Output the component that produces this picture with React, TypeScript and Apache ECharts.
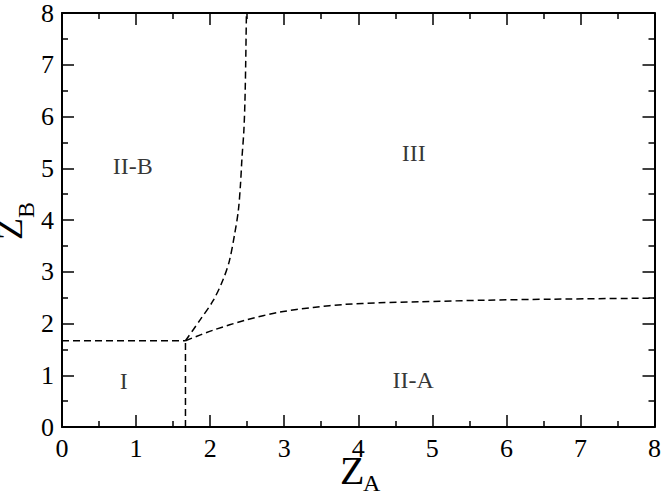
import React, { useEffect, useRef } from "react";
import * as echarts from "echarts";

const FONT = "serif";
const GFONT = "Liberation Serif";

// Phase boundaries [Z_A, Z_B]
const boundaryI_IIB: [number, number][] = [[0, 1.667], [1.667, 1.667]];
const boundaryI_IIA: [number, number][] = [[1.667, 0], [1.667, 1.667]];
const boundaryIIB_III: [number, number][] = [
  [1.667, 1.667], [1.86, 2.06], [2.04, 2.44], [2.17, 2.83], [2.26, 3.21],
  [2.33, 3.72], [2.38, 4.17], [2.41, 4.69], [2.43, 5.2], [2.455, 5.71],
  [2.47, 6.29], [2.48, 7.0], [2.49, 8.0],
];
const boundaryIIA_III: [number, number][] = [
  [1.667, 1.667], [2.04, 1.87], [2.49, 2.07], [2.94, 2.22], [3.39, 2.31],
  [3.83, 2.37], [4.28, 2.40], [4.82, 2.42], [5.72, 2.45], [6.62, 2.47], [8.0, 2.49],
];

const regionNames = ["I", "II-A", "II-B", "III"];
const regionX = [0.835, 4.74, 0.956, 4.75];
const regionY = [0.885, 0.9, 5.04, 5.29];

const axisMin = 0;
const axisMax = 8;
const axisInterval = 1;

export default function App() {
  const ref = useRef<HTMLDivElement>(null);
  useEffect(() => {
    if (!ref.current) return;
    const chart = echarts.init(ref.current, null, { renderer: "svg" });
    const dash = { type: [7, 4] as any, width: 1.5, color: "#000" };
    const baseAxis = (pos: string, labels: boolean) => ({
      type: "value",
      position: pos,
      min: axisMin,
      max: axisMax,
      interval: axisInterval,
      axisLine: { show: true, onZero: false, lineStyle: { color: "#000", width: 2 } },
      axisTick: { show: true, inside: true, length: 12, lineStyle: { color: "#000", width: 1.5 } },
      minorTick: { show: true, splitNumber: 2, length: 6, lineStyle: { color: "#000", width: 1.5 } },
      splitLine: { show: false },
      axisLabel: {
        show: labels,
        color: "#000",
        fontFamily: FONT,
        fontSize: 26,
        margin: 8,
      },
    });
    const lineSeries = (data: [number, number][], smooth: boolean) => ({
      type: "line",
      data,
      showSymbol: false,
      symbol: "none",
      smooth: smooth ? 0.3 : false,
      lineStyle: dash,
      silent: true,
    });
    chart.setOption({
      animation: false,
      backgroundColor: "#fff",
      textStyle: { fontFamily: FONT, color: "#000" },
      grid: { left: 62, right: 8, top: 11, bottom: 69 },
      xAxis: [baseAxis("bottom", true), baseAxis("top", false)],
      yAxis: [baseAxis("left", true), baseAxis("right", false)],
      series: [
        lineSeries(boundaryI_IIB, false),
        lineSeries(boundaryI_IIA, false),
        lineSeries(boundaryIIB_III, true),
        lineSeries(boundaryIIA_III, true),
        {
          type: "scatter",
          symbolSize: 1,
          itemStyle: { color: "transparent" },
          silent: true,
          data: regionNames.map((n, i) => ({ name: n, value: [regionX[i], regionY[i]] })),
          label: {
            show: true,
            position: "inside",
            formatter: (p: any) => p.name,
            color: "#000",
            fontFamily: FONT,
            fontSize: 24,
          },
        },
      ],
      graphic: [
        { type: "text", x: 340, y: 490, style: { text: "Z", font: `40px ${GFONT}`, fill: "#000", align: "left", verticalAlign: "bottom" } },
        { type: "text", x: 363, y: 495, style: { text: "A", font: `24px ${GFONT}`, fill: "#000", align: "left", verticalAlign: "bottom" } },
        { type: "text", x: 28, y: 240, rotation: Math.PI / 2, style: { text: "Z", font: `36px ${GFONT}`, fill: "#000", align: "left", verticalAlign: "bottom" } },
        { type: "text", x: 38, y: 218, rotation: Math.PI / 2, style: { text: "B", font: `24px ${GFONT}`, fill: "#000", align: "left", verticalAlign: "bottom" } },
      ],
    });
    return () => chart.dispose();
  }, []);
  return (
    <div
      ref={ref}
      style={{ position: "fixed", left: 0, top: 0, width: 664, height: 496, background: "#fff" }}
    />
  );
}
